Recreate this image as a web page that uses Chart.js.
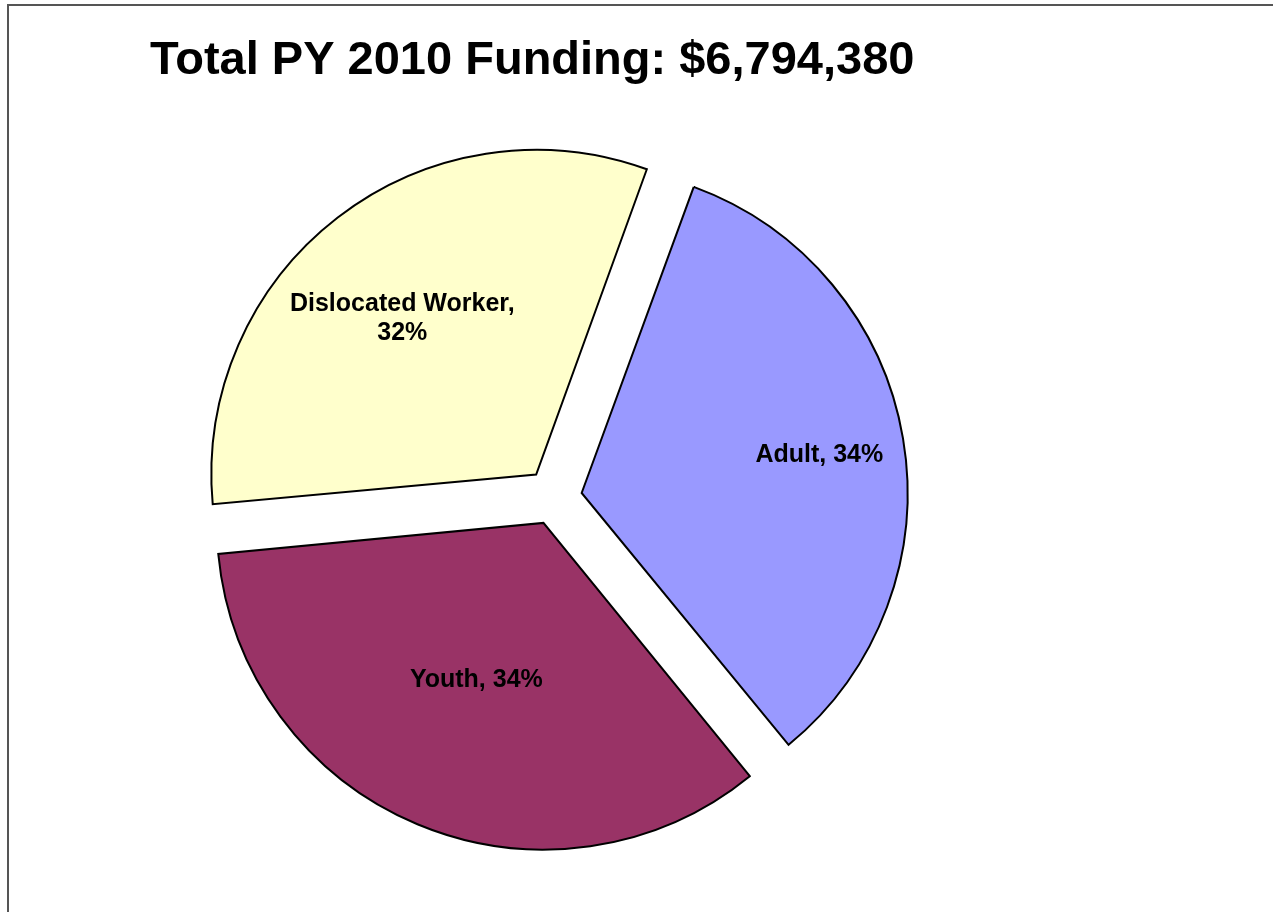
<!DOCTYPE html>
<html lang="en">
<head>
  <meta charset="UTF-8">
  <title>Total PY 2010 Funding</title>
  <script src="https://cdn.jsdelivr.net/npm/chart.js"></script>
  <style>
    html, body {
      margin: 0;
      padding: 0;
      background: #fff;
    }
    canvas {
      display: block;
    }
  </style>
</head>
<body>

  <canvas id="fundingChart" width="1273" height="912"></canvas>

  <script>
    // funding streams, in drawing order (clockwise from the top-right)
    const categories = ['Adult', 'Youth', 'Dislocated Worker'];
    const funding = [2278000, 2340000, 2176380]; // estimated, total $6,794,380
    const sliceColors = ['#9999FF', '#993366', '#FFFFCC'];

    const totalFunding = funding.reduce((a, b) => a + b, 0);
    const explode = 32; // px each slice is pulled out

    // how far out (fraction of radius) each label sits, and a small angle nudge (deg)
    const labelRadius = [0.735, 0.515, 0.63];
    const labelNudge = [0.7, 0.5, -3];

    const frame = {
      id: 'frame',
      beforeDraw(chart) {
        const c = chart.ctx;
        c.save();
        c.strokeStyle = '#555';
        c.lineWidth = 2;
        c.strokeRect(8, 5, chart.width + 20, chart.height + 20);
        c.restore();
      }
    };

    const sliceLabels = {
      id: 'sliceLabels',
      afterDatasetsDraw(chart, args, opts) {
        const c = chart.ctx;
        const meta = chart.getDatasetMeta(0);
        c.save();
        c.font = opts.font;
        c.fillStyle = '#000';
        c.textAlign = 'center';
        c.textBaseline = 'middle';
        meta.data.forEach((arc, i) => {
          const p = arc.getProps(['x', 'y', 'startAngle', 'endAngle', 'outerRadius'], true);
          const mid = (p.startAngle + p.endAngle) / 2;
          const circ = p.endAngle - p.startAngle;
          // same shift Chart.js applies when drawing an offset arc
          const shift = arc.options.offset / 4 * (2 - Math.sin(Math.min(Math.PI, circ)));
          const cx = p.x + Math.cos(mid) * shift;
          const cy = p.y + Math.sin(mid) * shift;
          const a = mid + labelNudge[i] * Math.PI / 180;
          const r = p.outerRadius * labelRadius[i];
          const x = cx + Math.cos(a) * r;
          const y = cy + Math.sin(a) * r;
          const pct = Math.round(funding[i] / totalFunding * 100) + '%';
          const full = categories[i] + ', ' + pct;
          const lines = c.measureText(full).width > opts.maxWidth ? [categories[i] + ',', pct] : [full];
          lines.forEach((ln, k) => {
            c.fillText(ln, x, y + (k - (lines.length - 1) / 2) * opts.lineHeight);
          });
        });
        c.restore();
      }
    };

    const ctx = document.getElementById('fundingChart').getContext('2d');

    new Chart(ctx, {
      type: 'pie',
      data: {
        labels: categories,
        datasets: [{
          data: funding,
          backgroundColor: sliceColors,
          borderColor: '#000',
          borderWidth: 2,
          borderJoinStyle: 'miter',
          radius: 322,
          offset: (c) => {
            const ang = 2 * Math.PI * funding[c.dataIndex] / totalFunding;
            return 4 * explode / (2 - Math.sin(Math.min(Math.PI, ang)));
          }
        }]
      },
      options: {
        responsive: false,
        animation: false,
        events: [],
        rotation: 20,
        layout: {
          padding: { left: 150, right: 315, top: 0, bottom: 12 }
        },
        plugins: {
          legend: { display: false },
          tooltip: { enabled: false },
          title: {
            display: true,
            text: 'Total PY 2010 Funding: $6,794,380',
            align: 'start',
            color: '#000',
            font: { family: "'Liberation Sans', Arial, sans-serif", size: 47, weight: 'bold' },
            padding: { top: 33, bottom: 6 }
          },
          sliceLabels: {
            font: "bold 25px 'Liberation Sans', Arial, sans-serif",
            maxWidth: 260,
            lineHeight: 29
          }
        }
      },
      plugins: [frame, sliceLabels]
    });
  </script>
</body>
</html>
